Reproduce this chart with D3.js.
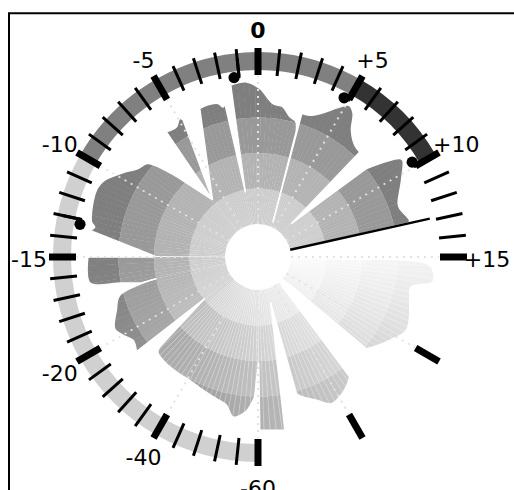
<!DOCTYPE html>
<html>
<head>
<meta charset="utf-8">
<title>Radial sweep meter</title>
<script src="https://d3js.org/d3.v7.min.js"></script>
<style>
  body { margin: 0; background: #fff; }
  svg { display: block; font-family: "DejaVu Sans", Verdana, sans-serif; }
</style>
</head>
<body>
<div id="chart"></div>
<script>
// gauge scale (piecewise), labels and ticks
const gaugeStops = [-60, -40, -20, -15, -10, -5, 0, 5, 10, 15, 20, 25];
const labelValues = [-60, -40, -20, -15, -10, -5, 0, 5, 10, 15];
const labelText = ["-60", "-40", "-20", "-15", "-10", "-5", "0", "+5", "+10", "+15"];
const majorTicks = [-60, -40, -20, -15, -10, -5, 0, 5, 10, 15, 20, 25];
const minorTicks = [-56, -52, -48, -44, -36, -32, -28, -24,
  -19, -18, -17, -16, -14, -13, -12, -11, -9, -8, -7, -6, -4, -3, -2, -1,
  1, 2, 3, 4, 6, 7, 8, 9, 11, 12, 13, 14];
const ringFrom = [-60, -10, 5];
const ringTo = [-10, 5, 10];
const markers = [-13, -1, 5, 10];

// sweep position of the needle (degrees)
const needleAt = 77.4;

// petals: [sweep degrees, level 0..100] along each outline, tip to tip
const petalH = [[-102, 50], [-102.5, 61], [-100.7, 75], [-98.8, 96.5], [-90, 96.5], [-90, 49.3]];
const petalI = [[-89.5, 49.3], [-81, 96.5], [-79.6, 93.7], [-78.1, 96.6], [-67.6, 99.9], [-63.4, 97.5],
  [-57.5, 88], [-53.6, 81.7], [-50.1, 79.2], [-48.4, 74], [-46.1, 61.3], [-44.3, 50.6], [-38.5, 28.2]];
const petalK = [[-38.5, 28.2], [-36.2, 86], [-32.1, 84.9], [-29.5, 88.7], [-28.7, 86.6], [-38.5, 28.2]];
const petalL = [[-38.5, 28.2], [-21.4, 89.1], [-18.8, 89.6], [-14.6, 88.4], [-13.1, 85.2], [-12.2, 87.3], [-11, 23.2]];
const petalA = [[-11, 23.2], [-9, 99.3], [-3.7, 100.3], [0.6, 95.4], [5.6, 85.2], [9.3, 84], [12.8, 78],
  [15.5, 76], [16.8, 70], [17, 64.8], [23.2, 3.5]];
const petalB = [[23.2, 3.5], [17, 82.4], [20, 83], [23.3, 86.6], [28.6, 97], [31, 101.4], [33.5, 98],
  [36.4, 87.6], [40.9, 80.8], [44.1, 79.7], [45, 9.9]];
const petalC = [[45, 9.9], [50.8, 75.4], [55.2, 98.2], [56.3, 99.3], [61.9, 91.3], [69.1, 82.4],
  [71.1, 82.2], [76.4, 86.6], [77.4, 85.2], [77.4, 0]];
const petalE = [[91, 0], [91.5, 50], [92.8, 98], [98.1, 101.2], [101.1, 86.6], [105.9, 87.9], [111.6, 91.5],
  [116.3, 93.3], [122.3, 86.5], [128, 79.6], [130.2, 76.8], [131, 4.2]];
const petalD = [[140.4, 2.6], [142.6, 83], [145.8, 87.3], [149.7, 90.8], [153.4, 92.3], [157.8, 85.7],
  [162.2, 80.3], [164.3, 76.8], [164.5, 9.9]];
const petalF = [[164.5, 9.9], [171.2, 100.2], [179.4, 98.8], [179.6, 51]];
const petalG = [[179.8, 51], [181.4, 75.4], [184.5, 86], [188.9, 90.8], [192, 83.5], [196.4, 80.7],
  [202.4, 78.2], [209, 76], [215.4, 76], [222.6, 75.6], [226.5, 74], [227.5, 70.4], [232, 24.4]];
const petalJ = [[-128, 24.4], [-127.9, 85.2], [-123.7, 82.5], [-120.1, 86.6], [-116.6, 89.6],
  [-110.6, 83.3], [-105.5, 77.8], [-102.3, 54.8], [-102, 50]];

const petals = [petalH, petalI, petalK, petalL, petalA, petalB, petalC, petalE, petalD, petalF, petalG, petalJ];
const bandLevels = [0, 25, 50, 75];

const width = 514, height = 490;
const cx = 258, cy = 257;

const svg = d3.select("#chart").append("svg")
  .attr("width", width)
  .attr("height", height);

// frame
svg.append("path")
  .attr("d", `M9,${height + 5}V13.3H${width + 5}`)
  .attr("fill", "none")
  .attr("stroke", "#000")
  .attr("stroke-width", 2);

const g = svg.append("g").attr("transform", `translate(${cx},${cy})`);

const rad = Math.PI / 180;
const sweep = d3.scaleLinear().domain([0, 360]).range([0, 2 * Math.PI]);
const level = d3.scaleLinear().domain([0, 100]).range([33, 175]);
const gauge = d3.scaleLinear()
  .domain(gaugeStops)
  .range([-180, -150, -120, -90, -60, -30, 0, 30, 60, 90, 120, 150].map(d => d * rad));

const bandColors = ["#cdcdcd", "#b3b3b3", "#999999", "#7f7f7f"];

// older data (further behind the needle) fades to white
function fade(a) {
  const age = ((((needleAt - a) % 360) + 360) % 360) / 360;
  if (age <= 0.45) return 1;
  return Math.max(0, 1 - Math.pow((age - 0.45) / 0.55, 1.3));
}

const curve = d3.line().curve(d3.curveCatmullRom.alpha(0.5));
const arc = d3.arc();

// outer edge: straight from each tip, smooth in between
function edgePath(pts) {
  const xy = pts.map(([a, v]) => d3.pointRadial(sweep(a), level(v)));
  const first = xy[0], last = xy[xy.length - 1];
  const mid = curve(xy.slice(1, -1)).replace(/^M/, "L");
  return `M${first}${mid}L${last}`;
}

const fills = g.append("g");
const edges = g.append("g");

petals.forEach((pts, i) => {
  const id = "petal" + i;
  const edge = edgePath(pts);
  g.append("clipPath").attr("id", id)
    .append("path").attr("d", "M0,0L" + edge.slice(1) + "Z");

  const lo = Math.floor(d3.min(pts, d => d[0])) - 2;
  const hi = Math.ceil(d3.max(pts, d => d[0])) + 2;
  const pg = fills.append("g").attr("clip-path", `url(#${id})`);
  d3.range(lo, hi, 2).forEach(a => {
    const f = fade(a + 1);
    bandLevels.forEach((b, j) => {
      pg.append("path")
        .attr("d", arc({
          innerRadius: j === 0 ? 0 : level(b),
          outerRadius: j === bandLevels.length - 1 ? 210 : level(bandLevels[j + 1]),
          startAngle: sweep(a),
          endAngle: sweep(a + 2.15)
        }))
        .attr("fill", d3.interpolateRgb("#ffffff", bandColors[j])(f));
    });
    if (f < 0.85) {
      const p0 = d3.pointRadial(sweep(a), level(0));
      const p1 = d3.pointRadial(sweep(a), 210);
      pg.append("line")
        .attr("x1", p0[0]).attr("y1", p0[1]).attr("x2", p1[0]).attr("y2", p1[1])
        .attr("stroke", "#fff").attr("stroke-opacity", 0.45).attr("stroke-width", 0.7);
    }
  });

  edges.append("path")
    .attr("d", edge)
    .attr("fill", "none")
    .attr("stroke", "#fff")
    .attr("stroke-width", 1.4);
});

// centre hole
g.append("circle").attr("r", level(0)).attr("fill", "#fff");

// dotted spokes
d3.range(-150, 181, 30).forEach(a => {
  const p0 = d3.pointRadial(sweep(a), level(0));
  const p1 = d3.pointRadial(sweep(a), 181);
  g.append("line")
    .attr("x1", p0[0]).attr("y1", p0[1]).attr("x2", p1[0]).attr("y2", p1[1])
    .attr("stroke", "#e2e2e2")
    .attr("stroke-width", 2)
    .attr("stroke-dasharray", "2,5");
});

// needle
{
  const p0 = d3.pointRadial(sweep(needleAt), level(0));
  const p1 = d3.pointRadial(sweep(needleAt), 176);
  g.append("line")
    .attr("x1", p0[0]).attr("y1", p0[1]).attr("x2", p1[0]).attr("y2", p1[1])
    .attr("stroke", "#000").attr("stroke-width", 2.5);
}

// gauge ring
const ringColors = ["#d0d0d0", "#808080", "#333333"];
ringFrom.forEach((s, i) => {
  g.append("path")
    .attr("d", arc({ innerRadius: 187, outerRadius: 205, startAngle: gauge(s), endAngle: gauge(ringTo[i]) }))
    .attr("fill", ringColors[i]);
});

function tick(v, w) {
  const p0 = d3.pointRadial(gauge(v), 182);
  const p1 = d3.pointRadial(gauge(v), 209);
  g.append("line")
    .attr("x1", p0[0]).attr("y1", p0[1]).attr("x2", p1[0]).attr("y2", p1[1])
    .attr("stroke", "#000").attr("stroke-width", w);
}
minorTicks.forEach(v => tick(v, 3));
majorTicks.forEach(v => tick(v, 7));

// note-shaped markers
markers.forEach(v => {
  const c = d3.pointRadial(gauge(v) - 1.6 * rad, 181);
  g.append("circle").attr("cx", c[0]).attr("cy", c[1]).attr("r", 5.6).attr("fill", "#000");
  const p0 = d3.pointRadial(gauge(v), 180);
  const p1 = d3.pointRadial(gauge(v), 200);
  g.append("line")
    .attr("x1", p0[0]).attr("y1", p0[1]).attr("x2", p1[0]).attr("y2", p1[1])
    .attr("stroke", "#000").attr("stroke-width", 3);
});

// labels
labelValues.forEach((v, i) => {
  const p = d3.pointRadial(gauge(v), 229);
  g.append("text")
    .attr("x", p[0]).attr("y", p[1] + 2)
    .attr("text-anchor", "middle")
    .attr("dominant-baseline", "central")
    .attr("font-size", 22)
    .attr("font-weight", v === 0 ? "bold" : "normal")
    .attr("fill", "#000")
    .text(labelText[i]);
});
</script>
</body>
</html>
